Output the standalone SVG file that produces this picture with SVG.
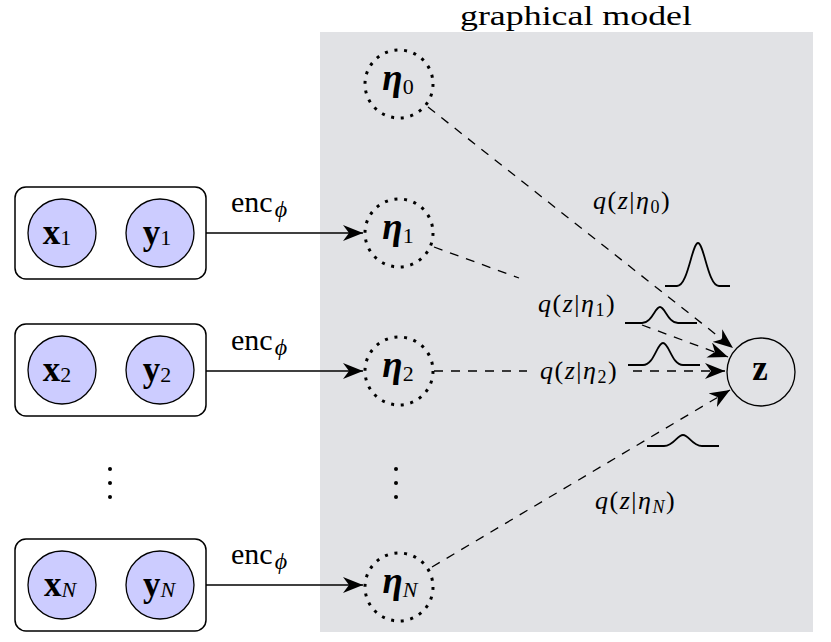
<svg xmlns="http://www.w3.org/2000/svg" width="831" height="642" viewBox="0 0 831 642" font-family="'Liberation Serif', 'Times New Roman', serif">
<style>
.box{fill:#fff;stroke:#000;stroke-width:1.5}
.obs{fill:#ccccff;stroke:#000;stroke-width:1.3}
.lat{fill:none;stroke:#000;stroke-width:3;stroke-dasharray:3 6.71}
.zc{fill:none;stroke:#000;stroke-width:1.3}
.b{font-weight:bold}
.bi{font-weight:bold;font-style:italic}
.it{font-style:italic}
.nl{font-size:35px}
.sub{font-size:22px;font-weight:normal;font-style:normal}
.subi{font-size:22px;font-weight:normal;font-style:italic}
.enc{font-size:30px}
.encs{font-size:24px;font-style:italic}
.q{font-size:26px;letter-spacing:1.5px}
.qs{font-size:18px}
.solid{fill:none;stroke:#000;stroke-width:1.5}
.dash{fill:none;stroke:#000;stroke-width:1.3;stroke-dasharray:9 8}
.gauss{fill:none;stroke:#000;stroke-width:1.8}
</style>
<defs>
<marker id="ah" markerUnits="userSpaceOnUse" markerWidth="20" markerHeight="16" refX="20" refY="8" orient="auto" viewBox="0 0 20 16">
<path d="M20,8 L0,0 L6,8 L0,16 Z" fill="#000" stroke="none"/>
</marker>
</defs>
<rect x="320" y="32" width="493" height="600" fill="#e1e2e5"/>
<text x="576" y="25" font-size="28" text-anchor="middle" textLength="232" lengthAdjust="spacingAndGlyphs">graphical model</text>

<g id="pair1">
<rect class="box" x="15" y="187" width="191" height="92" rx="11"/>
<circle class="obs" cx="62" cy="233" r="34"/>
<circle class="obs" cx="160" cy="233" r="34"/>
<text class="nl" x="57" y="244" text-anchor="middle"><tspan class="b">x</tspan><tspan class="sub" dy="1">1</tspan></text>
<text class="nl" x="157" y="244" text-anchor="middle"><tspan class="b">y</tspan><tspan class="sub" dy="1">1</tspan></text>
</g>
<g id="pair2">
<rect class="box" x="15" y="324" width="191" height="92" rx="11"/>
<circle class="obs" cx="62" cy="370" r="34"/>
<circle class="obs" cx="160" cy="370" r="34"/>
<text class="nl" x="57" y="381" text-anchor="middle"><tspan class="b">x</tspan><tspan class="sub" dy="1">2</tspan></text>
<text class="nl" x="157" y="381" text-anchor="middle"><tspan class="b">y</tspan><tspan class="sub" dy="1">2</tspan></text>
</g>
<g id="pairN">
<rect class="box" x="15" y="539" width="191" height="92" rx="11"/>
<circle class="obs" cx="62" cy="585" r="34"/>
<circle class="obs" cx="160" cy="585" r="34"/>
<text class="nl" x="60" y="596" text-anchor="middle"><tspan class="b">x</tspan><tspan class="subi" dy="1">N</tspan></text>
<text class="nl" x="159" y="596" text-anchor="middle"><tspan class="b">y</tspan><tspan class="subi" dy="1">N</tspan></text>
</g>
<g id="dots-left">
<circle cx="110" cy="469" r="2"/><circle cx="110" cy="483" r="2"/><circle cx="110" cy="497" r="2"/>
</g>
<g id="dots-right">
<circle cx="396" cy="469" r="2"/><circle cx="396" cy="483" r="2"/><circle cx="396" cy="497" r="2"/>
</g>

<g id="eta0">
<circle class="lat" cx="399" cy="84" r="34"/>
<text class="nl" x="398" y="90" text-anchor="middle"><tspan class="bi" font-size="37">η</tspan><tspan class="sub" dy="4">0</tspan></text>
</g>
<g id="eta1">
<circle class="lat" cx="399" cy="233" r="34"/>
<text class="nl" x="398" y="239" text-anchor="middle"><tspan class="bi" font-size="37">η</tspan><tspan class="sub" dy="4">1</tspan></text>
</g>
<g id="eta2">
<circle class="lat" cx="399" cy="371" r="34"/>
<text class="nl" x="398" y="377" text-anchor="middle"><tspan class="bi" font-size="37">η</tspan><tspan class="sub" dy="4">2</tspan></text>
</g>
<g id="etaN">
<circle class="lat" cx="399" cy="587" r="34"/>
<text class="nl" x="400" y="593" text-anchor="middle"><tspan class="bi" font-size="37">η</tspan><tspan class="subi" dy="4">N</tspan></text>
</g>
<g id="z">
<circle class="zc" cx="761" cy="372" r="34"/>
<text class="nl b" x="760" y="380" text-anchor="middle">z</text>
</g>

<g id="connectors">
<path class="solid" d="M206,233 L363,233" marker-end="url(#ah)"/>
<path class="solid" d="M206,371 L363,371" marker-end="url(#ah)"/>
<path class="solid" d="M206,585 L363,585" marker-end="url(#ah)"/>
<text class="enc" x="231" y="212">enc<tspan class="encs" dx="2" dy="5">ϕ</tspan></text>
<text class="enc" x="231" y="350">enc<tspan class="encs" dx="2" dy="5">ϕ</tspan></text>
<text class="enc" x="231" y="564">enc<tspan class="encs" dx="2" dy="5">ϕ</tspan></text>

<path class="dash" d="M428,107 L733,348" marker-end="url(#ah)"/>
<path class="dash" d="M434,247 L519,278"/>
<path class="dash" d="M642,325 L728,357" marker-end="url(#ah)"/>
<path class="dash" d="M434,371 L527,371"/>
<path class="dash" d="M633,371 L725,371" marker-end="url(#ah)"/>
<path class="dash" d="M432,567 L730,390" marker-end="url(#ah)"/>

<text class="q" x="593" y="209"><tspan class="it">q</tspan>(<tspan class="it">z</tspan>|<tspan class="it">η</tspan><tspan class="qs" dy="4">0</tspan><tspan dy="-4">)</tspan></text>
<text class="q" x="538" y="312"><tspan class="it">q</tspan>(<tspan class="it">z</tspan>|<tspan class="it">η</tspan><tspan class="qs" dy="4">1</tspan><tspan dy="-4">)</tspan></text>
<text class="q" x="540" y="379"><tspan class="it">q</tspan>(<tspan class="it">z</tspan>|<tspan class="it">η</tspan><tspan class="qs" dy="4">2</tspan><tspan dy="-4">)</tspan></text>
<text class="q" x="595" y="509"><tspan class="it">q</tspan>(<tspan class="it">z</tspan>|<tspan class="it">η</tspan><tspan class="qs it" dy="4">N</tspan><tspan dy="-4">)</tspan></text>

<path class="gauss" d="M665,286 L677,286 C688,286 692,243 698,243 C704,243 708,286 719,286 L730,286"/>
<path class="gauss" d="M625,323 L642,323 C652,323 655,307 660,307 C665,307 668,323 678,323 L697,323"/>
<path class="gauss" d="M628,365 L643,365 C654,365 657,343 663,343 C669,343 672,365 683,365 L700,365"/>
<path class="gauss" d="M647,446 L664,446 C674,446 677,435 683,435 C689,435 692,446 702,446 L719,446"/>
</g>
</svg>
